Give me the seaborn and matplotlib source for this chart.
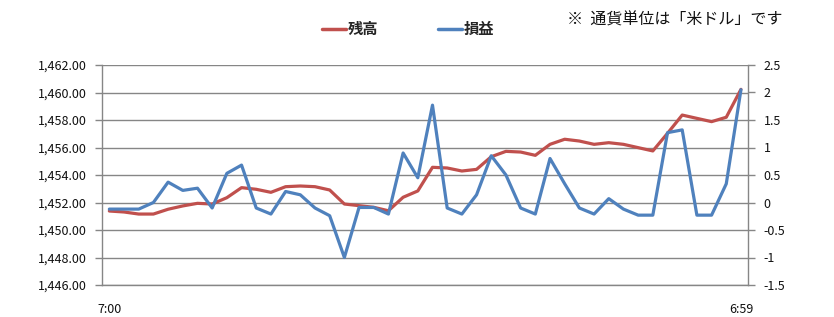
import numpy as np
import pandas as pd
import matplotlib
matplotlib.use("Agg")
import matplotlib.pyplot as plt
import seaborn as sns
from matplotlib.lines import Line2D

# ---- data ----
balance = [1451.38, 1451.31, 1451.16, 1451.16, 1451.51, 1451.75, 1451.94, 1451.89,
           1452.35, 1453.08, 1452.96, 1452.74, 1453.15, 1453.20, 1453.15, 1452.91,
           1451.89, 1451.77, 1451.65, 1451.40, 1452.38, 1452.84, 1454.56, 1454.51,
           1454.29, 1454.41, 1455.33, 1455.72, 1455.67, 1455.43, 1456.23, 1456.60,
           1456.47, 1456.23, 1456.35, 1456.23, 1455.99, 1455.75, 1457.03, 1458.36,
           1458.12, 1457.88, 1458.20, 1460.23]
pnl = [-0.12, -0.12, -0.12, 0.00, 0.37, 0.22, 0.26, -0.10,
       0.53, 0.68, -0.10, -0.21, 0.20, 0.14, -0.10, -0.24,
       -1.00, -0.09, -0.09, -0.21, 0.90, 0.45, 1.77, -0.10,
       -0.21, 0.14, 0.85, 0.50, -0.10, -0.21, 0.80, 0.34,
       -0.10, -0.21, 0.07, -0.12, -0.23, -0.23, 1.27, 1.32,
       -0.23, -0.23, 0.34, 2.05]
x_labels = ["7:00", "6:59"]
left_ticks = [1446, 1448, 1450, 1452, 1454, 1456, 1458, 1460, 1462]
right_ticks = [-1.5, -1, -0.5, 0, 0.5, 1, 1.5, 2, 2.5]
series_names = ["残高", "損益"]
note_text = "※  通貨単位は「米ドル」です"

RED = "#C0504D"
BLUE = "#4F81BD"
GRID = "#868686"
TXT = "#111111"

sns.set_style("white")
plt.rcParams['font.family'] = ['Noto Sans CJK JP', 'DejaVu Sans']

n = len(balance)
df = pd.DataFrame({"idx": np.arange(n), "balance": balance, "pnl": pnl})

fig = plt.figure(figsize=(8.34, 3.17), dpi=100)
ax = fig.add_axes([102/834, 32/317, (748.3-102)/834, 220/317])
ax2 = ax.twinx()

sns.lineplot(data=df, x="idx", y="balance", ax=ax, color=RED, linewidth=2.3, zorder=3)
sns.lineplot(data=df, x="idx", y="pnl", ax=ax2, color=BLUE, linewidth=2.3, zorder=4)

ax.set_xlim(-0.5, n - 0.5)
ax.set_ylim(1446, 1462)
ax2.set_ylim(-1.5, 2.5)

FS = 9
ax.set_yticks(left_ticks)
ax.set_yticklabels([f"{v:,.2f}" for v in left_ticks], fontsize=FS, color=TXT)
ax2.set_yticks(right_ticks)
ax2.set_yticklabels([f"{v:g}" for v in right_ticks], fontsize=FS, color=TXT)

ax.set_xticks([0, n - 1])
ax.set_xticklabels(x_labels, fontsize=FS, color=TXT)
ax.set_xticks(np.arange(n + 1) - 0.5, minor=True)
ax.tick_params(axis="x", which="major", length=0, pad=13)
ax.tick_params(axis="x", which="minor", length=4, width=1, color=GRID, direction="out")
ax.tick_params(axis="y", which="major", length=5, width=1, color=GRID, direction="out", pad=6)
ax2.tick_params(axis="y", which="major", length=5, width=1, color=GRID, direction="out", pad=6)

ax.grid(axis="y", color=GRID, linewidth=1.0)
ax.set_axisbelow(True)
ax.set_xlabel("")
ax.set_ylabel("")
ax2.set_ylabel("")

for a in (ax, ax2):
    for s in a.spines.values():
        s.set_color(GRID)
        s.set_linewidth(1.0)
    a.spines["top"].set_visible(False)
ax2.spines["left"].set_visible(False)
ax2.spines["bottom"].set_visible(False)
ax.spines["right"].set_visible(False)
ax2.grid(False)

handles = [Line2D([], [], color=RED, linewidth=2.5), Line2D([], [], color=BLUE, linewidth=2.5)]
fig.legend(handles, series_names, ncol=2, loc="center", bbox_to_anchor=(408/834, 1 - 29/317),
           frameon=False, handlelength=1.6, handletextpad=0.1, columnspacing=3.9,
           prop={"weight": "bold", "size": 11})

fig.text(567/834, 1 - 20/317, note_text, fontsize=11.5, ha="left", va="center", color=TXT)

fig.savefig("out.png", dpi=100, facecolor="white")
